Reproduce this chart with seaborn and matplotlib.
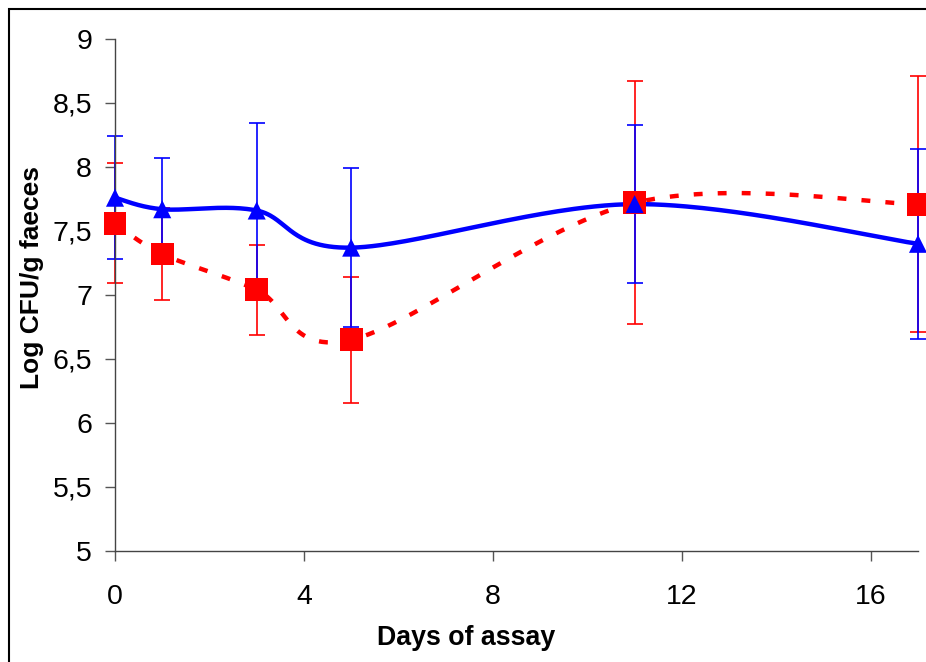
import numpy as np
import pandas as pd
import matplotlib
matplotlib.use("Agg")
import matplotlib.pyplot as plt
import seaborn as sns
from matplotlib.patches import Rectangle
from matplotlib.ticker import FuncFormatter

days = [0, 1, 3, 5, 11, 17]
blue_mean = [7.76, 7.67, 7.66, 7.37, 7.71, 7.40]
blue_err = [0.48, 0.40, 0.68, 0.62, 0.62, 0.74]
red_mean = [7.56, 7.32, 7.04, 6.65, 7.72, 7.71]
red_err = [0.47, 0.36, 0.35, 0.49, 0.95, 1.00]
x_ticks = [0, 4, 8, 12, 16]
y_ticks = [5, 5.5, 6, 6.5, 7, 7.5, 8, 8.5, 9]

sns.set_theme(style="white")
plt.rcParams['font.family'] = ['Liberation Sans', 'DejaVu Sans']
plt.rcParams['text.color'] = 'black'

W, H = 926, 662
fig = plt.figure(figsize=(W / 100, H / 100), dpi=100)
ax_l, ax_r, ax_t, ax_b = 115, 918, 39, 551
ax = fig.add_axes([ax_l / W, 1 - ax_b / H, (ax_r - ax_l) / W, (ax_b - ax_t) / H])
XMIN, XMAX, YMIN, YMAX = 0, 17, 5, 9
ax.set_xlim(XMIN, XMAX)
ax.set_ylim(YMIN, YMAX)

sx = (ax_r - ax_l) / (XMAX - XMIN)
sy = (ax_b - ax_t) / (YMAX - YMIN)


def smooth(xs, ys, n=60):
    # Excel-style Bezier smoothing computed in pixel space
    P = np.column_stack([np.asarray(xs, float) * sx, np.asarray(ys, float) * sy])
    out = []
    m = len(P)
    for i in range(m - 1):
        p0 = P[i - 1] if i > 0 else P[i]
        p1, p2 = P[i], P[i + 1]
        p3 = P[i + 2] if i + 2 < m else P[i + 1]
        c1 = p1 + (p2 - p0) / 6
        c2 = p2 - (p3 - p1) / 6
        t = np.linspace(0, 1, n)[:, None]
        seg = ((1 - t) ** 3) * p1 + 3 * ((1 - t) ** 2) * t * c1 + 3 * (1 - t) * t ** 2 * c2 + t ** 3 * p2
        out.append(seg if i == 0 else seg[1:])
    pts = np.vstack(out)
    return pts[:, 0] / sx, pts[:, 1] / sy


BLUE = "#0000FF"
RED = "#FF0000"

df = pd.DataFrame({"day": days * 2,
                   "value": blue_mean + red_mean,
                   "err": blue_err + red_err,
                   "series": ["blue"] * len(days) + ["red"] * len(days)})

# error bars
ax.errorbar(days, red_mean, yerr=red_err, fmt="none", ecolor=RED, elinewidth=1.2,
            capsize=5.8, capthick=1.2, clip_on=False, zorder=2)
ax.errorbar(days, blue_mean, yerr=blue_err, fmt="none", ecolor=BLUE, elinewidth=1.2,
            capsize=5.8, capthick=1.2, clip_on=False, zorder=2.1)

# smoothed lines
rx, ry = smooth(days, red_mean)
bx, by = smooth(days, blue_mean)
ax.plot(rx, ry, color=RED, lw=3.2, dashes=(2.0, 3.4), dash_capstyle="butt", clip_on=False, zorder=3)
ax.plot(bx, by, color=BLUE, lw=3.2, solid_capstyle="butt", clip_on=False, zorder=3.1)

# markers
sns.scatterplot(data=df[df.series == "red"], x="day", y="value", marker="s", s=16.5 ** 2,
                color=RED, edgecolor="none", linewidth=0, ax=ax, clip_on=False, zorder=4, legend=False)
sns.scatterplot(data=df[df.series == "blue"], x="day", y="value", marker="^", s=13 ** 2,
                color=BLUE, edgecolor="none", linewidth=0, ax=ax, clip_on=False, zorder=4.1, legend=False)

ax.set_xticks(x_ticks)
ax.set_yticks(y_ticks)
ax.yaxis.set_major_formatter(FuncFormatter(lambda v, p: (f"{v:g}").replace(".", ",")))
ax.tick_params(axis="both", which="major", direction="out", length=7.5, width=1.0,
               color="#555555", labelsize=20.5, labelcolor="black", left=True, bottom=True)
ax.tick_params(axis="x", pad=16)
ax.tick_params(axis="y", pad=9)
for s in ["top", "right"]:
    ax.spines[s].set_visible(False)
for s in ["left", "bottom"]:
    ax.spines[s].set_color("#444444")
    ax.spines[s].set_linewidth(1.0)
ax.set_xlabel("")
ax.set_ylabel("")
ax.grid(False)

fig.text(466 / W, 1 - 645 / H, "Days of assay", ha="center", va="baseline",
         fontsize=19.3, fontweight="bold", color="black")
fig.text(32 / W, 1 - 278 / H, "Log CFU/g faeces", ha="center", va="center",
         rotation=90, fontsize=19, fontweight="bold", color="black")

fig.patches.append(Rectangle((9 / W, -0.1), 1.2, 1 - 9 / H + 0.1, transform=fig.transFigure,
                             fill=False, edgecolor="black", linewidth=1.5, zorder=0))

fig.savefig("out.png", dpi=100)
